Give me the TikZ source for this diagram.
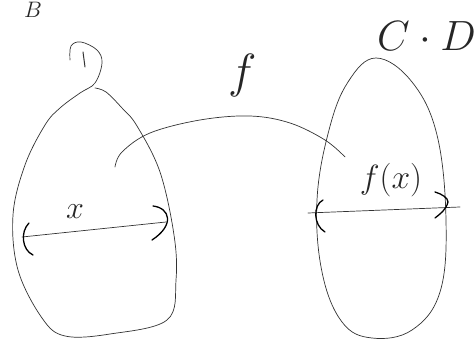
\documentclass[tikz,border=0pt]{standalone}
\usepackage{graphicx}
\usetikzlibrary{calc}
\newcommand{\bigtxt}[2]{\scalebox{#1}{\Huge$#2$}}
\begin{document}
\begin{tikzpicture}[x=1pt,y=-1pt,
  ink/.style={draw=black!80,line width=0.7pt,line cap=round,line join=round},
  thick ink/.style={draw=black,line width=1.3pt,line cap=round},
  lbl/.style={inner sep=0pt,text=black!85}]
\useasboundingbox (0,0) rectangle (476,347);
% left set with the hook of its label
\draw[ink] plot[smooth,tension=0.6] coordinates{(70,60)(71,46)(81,42)(97,50)(102,63)(95,83)(80,93)(60,108)(45,125)(25,165)(13,215)(18,270)(42,318)(65,336)(110,334)(167,320)(176,280)(174,235)(160,172)(137,126)(122,108)(106,92)(95,88)};
\draw[ink,line width=1pt] (83,52) -- (85,67);
% right set
\draw[ink] plot[smooth cycle,tension=0.65] coordinates{(376,58)(348,82)(329,130)(317,200)(322,272)(342,322)(372,338)(412,330)(440,292)(446,220)(437,135)(412,82)};
% points
\coordinate (xa) at (22,237);
\coordinate (xb) at (166,222);
\coordinate (ya) at (308,213);
\coordinate (yb) at (460,207);
\coordinate (fs) at (115,167);
\coordinate (fe) at (345,157);
% arrows
\draw[ink] (xa) -- (xb);
\draw[thick ink] (29,223) .. controls (20,232) and (22,250) .. (33,255);
\draw[thick ink] (153,206) .. controls (170,208) and (175,225) .. (152,240);
\draw[ink] (ya) -- (yb);
\draw[thick ink] (323,200) .. controls (313,205) and (313,225) .. (325,232);
\draw[thick ink] (435,192) .. controls (442,194) and (448,198) .. (448,202) .. controls (446,210) and (440,214) .. (435,218);
% map f
\draw[ink] plot[smooth,tension=0.6] coordinates{(fs)(122,152)(150,133)(200,120)(250,116)(290,123)(325,140)(fe)};
% labels
\node[lbl] (f) at (243,75) {\bigtxt{1.93}{f}};
\node[lbl] (x) at (75,212) {\bigtxt{1.29}{x}};
\node[lbl] (fx) at (391,180) {\bigtxt{1.35}{f(x)}};
\node[lbl,anchor=east] (C) at (476,36) {\bigtxt{1.7}{C\cdot D}};
\node[lbl,anchor=north] (B) at (33,2) {\bigtxt{0.9}{B}};
\end{tikzpicture}
\end{document}
